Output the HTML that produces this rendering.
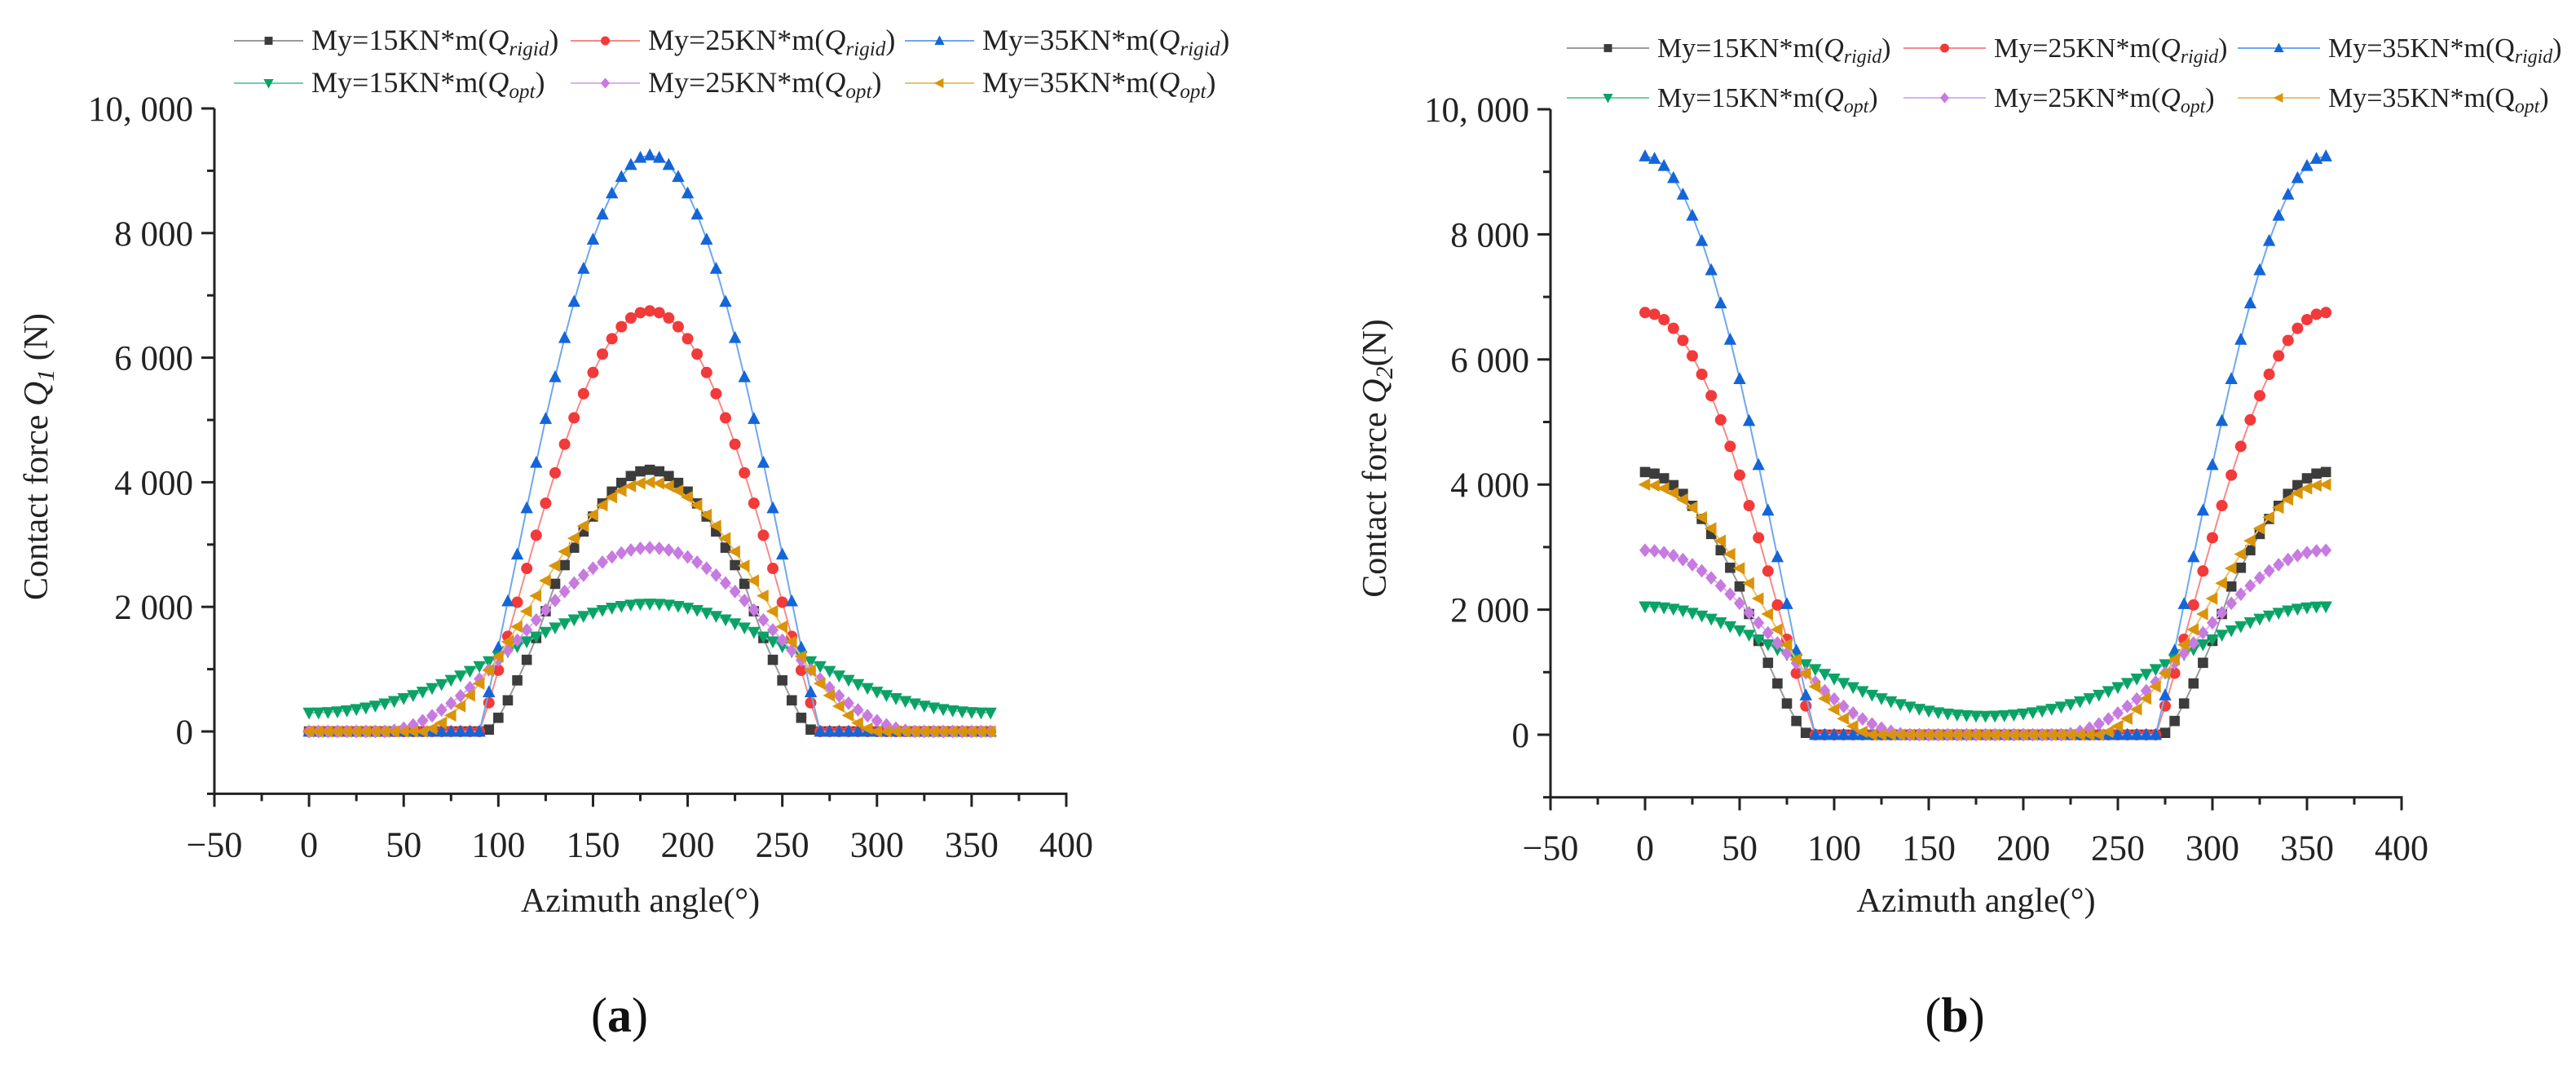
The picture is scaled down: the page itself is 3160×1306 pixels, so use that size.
<!DOCTYPE html>
<html><head><meta charset="utf-8">
<style>
html,body{margin:0;padding:0;background:#fff;}
svg{display:block;font-family:"Liberation Serif",serif;}
</style></head>
<body>
<svg id="fig" width="3160" height="1306" viewBox="0 0 3160 1306" xmlns="http://www.w3.org/2000/svg"></svg>
<script>
// ---- data (azimuth angle 0..360 step 5) ----
const angles = [];
for (let a = 0; a <= 360; a += 5) angles.push(a);
const xTicks = [-50,0,50,100,150,200,250,300,350,400];
const yTicks = [0,2000,4000,6000,8000,10000];
const yTickLabels = ["0","2 000","4 000","6 000","8 000","10, 000"];

// Chart (a) Q1
const a_rigid15 = [0,0,0,0,0,0,0,0,0,0,0,0,0,0,0,0,0,0,0,30,220,500,820,1150,1500,1930,2370,2670,2950,3210,3450,3660,3850,3990,4100,4175,4200,4175,4100,3990,3850,3660,3450,3210,2950,2670,2370,1930,1500,1150,820,500,220,30,0,0,0,0,0,0,0,0,0,0,0,0,0,0,0,0,0,0,0];
const a_rigid25 = [0,0,0,0,0,0,0,0,0,0,0,0,0,0,0,0,0,0,0,461,983,1526,2074,2617,3149,3663,4151,4610,5034,5421,5762,6057,6304,6497,6637,6722,6750,6722,6637,6497,6304,6057,5762,5421,5034,4610,4151,3663,3149,2617,2074,1526,983,461,0,0,0,0,0,0,0,0,0,0,0,0,0,0,0,0,0,0,0];
const a_rigid35 = [0,0,0,0,0,0,0,0,0,0,0,0,0,0,0,0,0,0,0,632,1348,2091,2842,3586,4315,5019,5689,6318,6899,7429,7897,8301,8639,8903,9096,9211,9250,9211,9096,8903,8639,8301,7897,7429,6899,6318,5689,5019,4315,3586,2842,2091,1348,632,0,0,0,0,0,0,0,0,0,0,0,0,0,0,0,0,0,0,0];
const a_opt15 = [300,302,309,320,336,357,382,412,447,487,532,581,636,695,758,826,896,970,1047,1125,1205,1285,1365,1444,1521,1596,1667,1733,1796,1852,1903,1947,1984,2012,2033,2046,2050,2046,2033,2012,1984,1947,1903,1852,1796,1733,1667,1596,1521,1444,1365,1285,1205,1125,1047,970,896,826,758,695,636,581,532,487,447,412,382,357,336,320,309,302,300];
const a_opt25 = [0,0,0,0,0,0,0,0,0,18,54,106,173,253,347,454,572,703,843,990,1145,1304,1466,1630,1790,1950,2102,2247,2383,2509,2621,2718,2801,2865,2912,2940,2950,2940,2912,2865,2801,2718,2621,2509,2383,2247,2102,1950,1790,1630,1466,1304,1145,990,843,703,572,454,347,253,173,106,54,18,0,0,0,0,0,0,0,0,0];
const a_opt35 = [0,0,0,0,0,0,0,0,0,0,0,0,0,47,137,258,406,578,770,980,1203,1439,1682,1929,2177,2422,2660,2887,3101,3299,3476,3631,3760,3864,3939,3984,4000,3984,3939,3864,3760,3631,3476,3299,3101,2887,2660,2422,2177,1929,1682,1439,1203,980,770,578,406,258,137,47,0,0,0,0,0,0,0,0,0,0,0,0,0];

// Chart (b) Q2
const b_rigid15 = [4200,4175,4100,3990,3850,3660,3450,3210,2950,2670,2370,1930,1500,1150,820,500,220,30,0,0,0,0,0,0,0,0,0,0,0,0,0,0,0,0,0,0,0,0,0,0,0,0,0,0,0,0,0,0,0,0,0,0,0,0,0,30,220,500,820,1150,1500,1930,2370,2670,2950,3210,3450,3660,3850,3990,4100,4175,4200];
const b_rigid25 = [6750,6722,6637,6497,6304,6057,5762,5421,5034,4610,4151,3663,3149,2617,2074,1526,983,461,0,0,0,0,0,0,0,0,0,0,0,0,0,0,0,0,0,0,0,0,0,0,0,0,0,0,0,0,0,0,0,0,0,0,0,0,0,461,983,1526,2074,2617,3149,3663,4151,4610,5034,5421,5762,6057,6304,6497,6637,6722,6750];
const b_rigid35 = [9250,9211,9096,8903,8639,8301,7897,7429,6899,6318,5689,5019,4315,3586,2842,2091,1348,632,0,0,0,0,0,0,0,0,0,0,0,0,0,0,0,0,0,0,0,0,0,0,0,0,0,0,0,0,0,0,0,0,0,0,0,0,0,632,1348,2091,2842,3586,4315,5019,5689,6318,6899,7429,7897,8301,8639,8903,9096,9211,9250];
const b_opt15 = [2050,2046,2033,2012,1984,1947,1903,1852,1796,1733,1667,1596,1521,1444,1365,1285,1205,1125,1047,970,896,826,758,695,636,581,532,487,447,412,382,357,336,320,309,302,300,302,309,320,336,357,382,412,447,487,532,581,636,695,758,826,896,970,1047,1125,1205,1285,1365,1444,1521,1596,1667,1733,1796,1852,1903,1947,1984,2012,2033,2046,2050];
const b_opt25 = [2950,2940,2912,2865,2801,2718,2621,2509,2383,2247,2102,1950,1790,1630,1466,1304,1145,990,843,703,572,454,347,253,173,106,54,18,0,0,0,0,0,0,0,0,0,0,0,0,0,0,0,0,0,18,54,106,173,253,347,454,572,703,843,990,1145,1304,1466,1630,1790,1950,2102,2247,2383,2509,2621,2718,2801,2865,2912,2940,2950];
const b_opt35 = [4000,3984,3939,3864,3760,3631,3476,3299,3101,2887,2660,2422,2177,1929,1682,1439,1203,980,770,578,406,258,137,47,0,0,0,0,0,0,0,0,0,0,0,0,0,0,0,0,0,0,0,0,0,0,0,0,0,47,137,258,406,578,770,980,1203,1439,1682,1929,2177,2422,2660,2887,3101,3299,3476,3631,3760,3864,3939,3984,4000];

const seriesStyle = [
  {key:'rigid15', color:'#3c3c3c', line:'#9a9a9a', marker:'square',   lab:'My=15KN*m(', q:'Q', sub:'rigid'},
  {key:'rigid25', color:'#f23a3a', line:'#f58a8a', marker:'circle',   lab:'My=25KN*m(', q:'Q', sub:'rigid'},
  {key:'rigid35', color:'#1466d8', line:'#6fa7ee', marker:'triUp',    lab:'My=35KN*m(', q:'Q', sub:'rigid'},
  {key:'opt15',   color:'#0aa266', line:'#6fd0a6', marker:'triDown',  lab:'My=15KN*m(', q:'Q', sub:'opt'},
  {key:'opt25',   color:'#c77ae0', line:'#ddb0ef', marker:'diamond',  lab:'My=25KN*m(', q:'Q', sub:'opt'},
  {key:'opt35',   color:'#d9940a', line:'#ecc26a', marker:'triLeft',  lab:'My=35KN*m(', q:'Q', sub:'opt'}
];
const dataA = {rigid15:a_rigid15, rigid25:a_rigid25, rigid35:a_rigid35, opt15:a_opt15, opt25:a_opt25, opt35:a_opt35};
const dataB = {rigid15:b_rigid15, rigid25:b_rigid25, rigid35:b_rigid35, opt15:b_opt15, opt25:b_opt25, opt35:b_opt35};

const NS = 'http://www.w3.org/2000/svg';
const svg = document.getElementById('fig');
function el(tag, attrs, parent){
  const e = document.createElementNS(NS, tag);
  for (const k in attrs) e.setAttribute(k, attrs[k]);
  (parent||svg).appendChild(e);
  return e;
}
function marker(g, type, x, y, s, color){
  let m;
  if (type==='square') m = el('rect',{x:x-s*0.45,y:y-s*0.45,width:s*0.9,height:s*0.9,fill:color},g);
  else if (type==='circle') m = el('circle',{cx:x,cy:y,r:s*0.5,fill:color},g);
  else if (type==='triUp') m = el('polygon',{points:`${x},${y-s*0.6} ${x-s*0.55},${y+s*0.45} ${x+s*0.55},${y+s*0.45}`,fill:color},g);
  else if (type==='triDown') m = el('polygon',{points:`${x},${y+s*0.6} ${x-s*0.55},${y-s*0.45} ${x+s*0.55},${y-s*0.45}`,fill:color},g);
  else if (type==='diamond') m = el('polygon',{points:`${x},${y-s*0.6} ${x+s*0.5},${y} ${x},${y+s*0.6} ${x-s*0.5},${y}`,fill:color},g);
  else m = el('polygon',{points:`${x-s*0.6},${y} ${x+s*0.45},${y-s*0.55} ${x+s*0.45},${y+s*0.55}`,fill:color},g);
  return m;
}

function drawChart(cfg){
  const g = el('g',{});
  
  
  const xs = v => cfg.x0 + (v - (-50)) / 450 * (cfg.x1 - cfg.x0);
  const ys = v => cfg.yZero - v * cfg.yPer;
  const yBottom = ys(-1000), yTop = ys(10000);
  seriesStyle.forEach(s => {
    const vals = cfg.data[s.key];
    const sg = el('g',{},g);
    
    
    const pts = angles.map((a,i)=> xs(a).toFixed(1)+','+ys(vals[i]).toFixed(1)).join(' ');
    const pl = el('polyline',{points:pts,fill:'none',stroke:s.line,'stroke-width':2},sg);
    
    
    angles.forEach((a,i)=>{
      const m = marker(sg, s.marker, xs(a), ys(vals[i]), 14, s.color);
      
      
    });
  });
  const ax = el('g',{stroke:'#222','stroke-width':3,fill:'none'},g);
  
  
  el('line',{x1:cfg.x0,y1:yTop,x2:cfg.x0,y2:yBottom+1.5},ax);
  el('line',{x1:cfg.x0-1.5,y1:yBottom,x2:cfg.x1+1.5,y2:yBottom},ax);
  for (let v=-50; v<=400; v+=25){
    const major = v % 50 === 0;
    el('line',{x1:xs(v),y1:yBottom,x2:xs(v),y2:yBottom+(major?16:9)},ax);
  }
  for (let v=-1000; v<=10000; v+=1000){
    const major = v % 2000 === 0 && v>=0;
    el('line',{x1:cfg.x0,y1:ys(v),x2:cfg.x0-(major?16:9),y2:ys(v)},ax);
  }
  xTicks.forEach(v=>{
    const t = el('text',{x:xs(v),y:yBottom+77,'font-size':44,'text-anchor':'middle',fill:'#222'},g);
    t.textContent = v<0 ? '\u2212'+Math.abs(v) : String(v);
    
    
  });
  yTicks.forEach((v,i)=>{
    const t = el('text',{x:cfg.x0-26,y:ys(v)+15,'font-size':43,'text-anchor':'end',fill:'#222'},g);
    t.textContent = yTickLabels[i];
    
    
  });
  const xt = el('text',{x:(cfg.x0+cfg.x1)/2,y:1118,'font-size':42,'text-anchor':'middle',fill:'#222'},g);
  xt.textContent = 'Azimuth angle(\u00b0)';
  
  
  const yt = el('text',{x:0,y:0,'font-size':42,'text-anchor':'middle',fill:'#222',transform:`translate(${cfg.ytx},${cfg.yty}) rotate(-90)`},g);
  
  
  let sp = el('tspan',{},yt); sp.textContent = 'Contact force ';
  sp = el('tspan',{'font-style':'italic'},yt); sp.textContent = 'Q';
  sp = el('tspan',{'font-style':'italic','font-size':30,dy:8},yt); sp.textContent = cfg.sub;
  sp = el('tspan',{dy:-8},yt); sp.textContent = cfg.subGap + '(N)';
  const pl = el('text',{x:cfg.panelX,y:1265,'font-size':60,'text-anchor':'middle',fill:'#111'},g);
  
  
  sp = el('tspan',{},pl); sp.textContent='(';
  sp = el('tspan',{'font-weight':'bold'},pl); sp.textContent=cfg.panel;
  sp = el('tspan',{},pl); sp.textContent=')';
  const lg = el('g',{},g);
  
  
  seriesStyle.forEach((s,i)=>{
    const col = i%3, row = Math.floor(i/3);
    const lx = cfg.legX[col], ly = cfg.legY[row];
    const eg = el('g',{},lg);
    
    
    el('line',{x1:lx,y1:ly,x2:lx+cfg.legLen,y2:ly,stroke:s.line,'stroke-width':2},eg);
    marker(eg, s.marker, lx+cfg.legLen/2, ly, 11, s.color);
    const t = el('text',{x:lx+cfg.legLen+10,y:ly+11,'font-size':cfg.legFont,fill:'#222'},eg);
    let q = el('tspan',{},t); q.textContent = s.lab;
    const italicQ = !(cfg.panel==='b' && s.key.indexOf('35')>=0);
    q = el('tspan',{'font-style':italicQ?'italic':'normal'},t); q.textContent = s.q;
    q = el('tspan',{'font-style':'italic','font-size':cfg.legFont*0.7,dy:7},t); q.textContent = s.sub;
    q = el('tspan',{dy:-7},t); q.textContent = ')';
  });
}

drawChart({name:'chart-a', panel:'a', data:dataA, x0:263, x1:1308, yZero:897, yPer:0.0764,
  ytx:58, yty:560, sub:'1', subGap:' ', panelX:760,
  legX:[287,700,1110], legY:[50,102], legLen:85, legFont:36});
drawChart({name:'chart-b', panel:'b', data:dataB, x0:1902, x1:2946, yZero:901, yPer:0.0767,
  ytx:1700, yty:562, sub:'2', subGap:'', panelX:2398,
  legX:[1922,2335,2745], legY:[59,120], legLen:101, legFont:34});
</script>
</body></html>
